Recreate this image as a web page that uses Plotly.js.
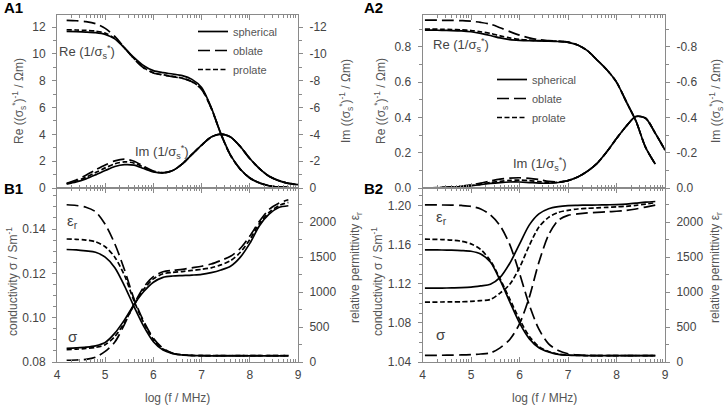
<!DOCTYPE html>
<html>
<head>
<meta charset="utf-8">
<script src="https://cdn.plot.ly/plotly-3.0.1.min.js"></script>
<style>html,body{margin:0;padding:0;background:#fff;}#chart{width:726px;height:406px;}</style>
</head>
<body>
<div id="chart"></div>
<script>
// ---------- DATA ----------
// x = log(f / MHz)
const xL  = [4.2,4.4,4.6,4.8,5.0,5.2,5.4,5.6,5.8,6.0,6.2,6.4,6.6,6.8,7.0,7.2,7.4,7.6,7.8,8.0,8.2,8.4,8.6,8.8];
const xL9 = [4.2,4.4,4.6,4.8,5.0,5.2,5.4,5.6,5.8,6.0,6.2,6.4,6.6,6.8,7.0,7.2,7.4,7.6,7.8,8.0,8.2,8.4,8.6,8.8,9.0];
const xR  = [4.05,4.2,4.4,4.6,4.8,5.0,5.2,5.4,5.6,5.8,6.0,6.2,6.4,6.6,6.8,7.0,7.2,7.4,7.6,7.8,8.0,8.2,8.4,8.6,8.8];
const xR9 = [4.05,4.2,4.4,4.6,4.8,5.0,5.2,5.4,5.6,5.8,6.0,6.2,6.4,6.6,6.8,7.0,7.2,7.4,7.6,7.8,8.0,8.2,8.4,8.6,8.8,9.0];

// A1: Re(1/sigma*) [Ohm m] (left axis), Im(1/sigma*) [Ohm m] (right axis, negative)
const a1ReSph = [11.68,11.66,11.63,11.58,11.45,11.12,10.45,9.72,9.12,8.75,8.6,8.5,8.38,8.1,7.5,6.0,4.05,2.45,1.42,0.75,0.38,0.17,0.08,0.04];
const a1ReObl = [12.5,12.47,12.4,12.25,11.9,11.3,10.45,9.62,8.95,8.58,8.42,8.3,8.17,7.92,7.35,5.95,4.02,2.43,1.41,0.75,0.38,0.17,0.08,0.04];
const a1RePro = [11.8,11.78,11.75,11.7,11.55,11.15,10.45,9.65,8.98,8.6,8.44,8.32,8.19,7.94,7.38,5.96,4.03,2.44,1.41,0.75,0.38,0.17,0.08,0.04];
const a1ImSph = [-0.3,-0.45,-0.68,-0.98,-1.3,-1.6,-1.74,-1.7,-1.45,-1.2,-1.12,-1.3,-1.8,-2.5,-3.2,-3.8,-4.02,-3.8,-3.1,-2.2,-1.45,-0.88,-0.55,-0.35,-0.25];
const a1ImObl = [-0.35,-0.6,-0.95,-1.35,-1.72,-2.02,-2.15,-2.0,-1.62,-1.27,-1.14,-1.3,-1.8,-2.5,-3.2,-3.8,-4.02,-3.8,-3.1,-2.2,-1.45,-0.88,-0.55,-0.35,-0.25];
const a1ImPro = [-0.32,-0.52,-0.8,-1.15,-1.5,-1.8,-1.95,-1.86,-1.55,-1.23,-1.13,-1.3,-1.8,-2.5,-3.2,-3.8,-4.02,-3.8,-3.1,-2.2,-1.45,-0.88,-0.55,-0.35,-0.25];

// B1: conductivity [S/m] (left), relative permittivity (right)
const b1SigSph = [0.0862,0.0864,0.0867,0.0873,0.0888,0.0930,0.0990,0.1060,0.1118,0.1160,0.1182,0.1188,0.1190,0.1192,0.1195,0.1203,0.1215,0.1232,0.1272,0.1335,0.1415,0.1467,0.1497,0.1505];
const b1SigObl = [0.0808,0.0809,0.0812,0.0822,0.0848,0.0890,0.0970,0.1062,0.1138,0.1185,0.1207,0.1214,0.1218,0.1225,0.1232,0.1242,0.1258,0.1277,0.1312,0.1368,0.1435,0.1488,0.1516,0.1532];
const b1SigPro = [0.0856,0.0858,0.0861,0.0866,0.0878,0.0915,0.0978,0.1058,0.1128,0.1175,0.1198,0.1204,0.1208,0.1213,0.1218,0.1225,0.1238,0.1257,0.1294,0.1352,0.1425,0.1475,0.1505,0.1520];
const b1EpsSph = [1610,1605,1590,1570,1500,1350,1090,790,510,290,170,120,100,92,90,88,88,88,88,88,88,88,88,88];
const b1EpsObl = [2250,2240,2215,2150,1970,1690,1320,900,580,340,195,125,102,94,91,90,90,90,90,90,90,90,90,90];
const b1EpsPro = [1760,1755,1745,1720,1650,1500,1240,870,560,320,185,125,102,94,91,90,90,90,90,90,90,90,90,90];

// A2
const a2ReSph = [0.894,0.894,0.893,0.892,0.89,0.885,0.876,0.864,0.85,0.84,0.836,0.834,0.833,0.832,0.83,0.825,0.81,0.778,0.725,0.67,0.6,0.49,0.38,0.23,0.135];
const a2ReObl = [0.951,0.951,0.95,0.95,0.948,0.945,0.938,0.928,0.908,0.886,0.866,0.85,0.84,0.835,0.831,0.826,0.81,0.778,0.725,0.67,0.6,0.49,0.38,0.23,0.135];
const a2RePro = [0.90,0.90,0.899,0.898,0.896,0.892,0.885,0.876,0.862,0.85,0.842,0.838,0.835,0.833,0.831,0.826,0.81,0.778,0.725,0.67,0.6,0.49,0.38,0.23,0.135];
const a2ImSph = [0,-0.001,-0.002,-0.004,-0.007,-0.012,-0.019,-0.026,-0.031,-0.034,-0.034,-0.031,-0.028,-0.027,-0.031,-0.042,-0.062,-0.095,-0.14,-0.205,-0.28,-0.35,-0.405,-0.395,-0.31,-0.215];
const a2ImObl = [0,-0.001,-0.003,-0.006,-0.01,-0.018,-0.028,-0.04,-0.05,-0.056,-0.058,-0.055,-0.048,-0.038,-0.034,-0.042,-0.062,-0.095,-0.14,-0.205,-0.28,-0.35,-0.405,-0.395,-0.31,-0.215];
const a2ImPro = [0,-0.001,-0.002,-0.005,-0.008,-0.014,-0.022,-0.031,-0.038,-0.043,-0.045,-0.042,-0.036,-0.031,-0.032,-0.042,-0.062,-0.095,-0.14,-0.205,-0.28,-0.35,-0.405,-0.395,-0.31,-0.215];

// B2
const b2SigSph = [1.1155,1.1155,1.1156,1.1158,1.1160,1.1165,1.1178,1.1195,1.1265,1.1410,1.1605,1.1800,1.1915,1.1968,1.1990,1.2000,1.2003,1.2005,1.2006,1.2008,1.2010,1.2015,1.2025,1.2035,1.2042];
const b2SigObl = [1.0468,1.0468,1.0469,1.0470,1.0472,1.0476,1.0482,1.0493,1.0545,1.0630,1.0790,1.1060,1.1420,1.1700,1.1850,1.1900,1.1915,1.1925,1.1930,1.1936,1.1942,1.1950,1.1965,1.1985,1.2005];
const b2SigPro = [1.1013,1.1013,1.1014,1.1015,1.1016,1.1020,1.1028,1.1040,1.1105,1.1195,1.1365,1.1590,1.1780,1.1880,1.1930,1.1952,1.1965,1.1972,1.1977,1.1982,1.1987,1.1993,1.2003,1.2015,1.2030];
const b2EpsSph = [1605,1605,1603,1600,1595,1585,1545,1430,1170,860,560,335,205,145,110,98,93,91,90,90,90,90,90,90,90];
const b2EpsObl = [2248,2248,2247,2245,2240,2228,2190,2105,1950,1680,1270,820,470,260,165,118,102,95,92,91,90,90,90,90,90];
const b2EpsPro = [1757,1756,1752,1745,1728,1690,1610,1450,1190,900,610,370,220,150,113,100,94,92,91,90,90,90,90,90,90];

// tick labels
const xTickVals = [4,5,6,7,8,9];
const xTickText = ["4","5","6","7","8","9"];
const a1RightVals = [0,-2,-4,-6,-8,-10,-12];
const a1RightText = ["0","-2","-4","-6","-8","-10","-12"];
const a2RightVals = [0,-0.2,-0.4,-0.6,-0.8];
const a2RightText = ["0.0","-0.2","-0.4","-0.6","-0.8"];
const shapeNames = ["spherical","oblate","prolate"];

// ---------- STYLE ----------
const FONT = "Liberation Sans, Arial, Helvetica, sans-serif";
const AX = "#8a8a8a", TXT = "#444";
const dashes = {sph:"solid", obl:"12px,5px", pro:"5px,2.5px"};
const LW = 1.7;
const logOff = [0.301,0.477,0.602,0.699,0.778,0.845,0.903,0.954];
const minorX = [];
[4,5,6,7,8].forEach(d => logOff.forEach(o => minorX.push(d + o)));

function tr(x, y, xa, ya, kind, legendName, legendId) {
  const t = {x:x, y:y, xaxis:xa, yaxis:ya, type:"scatter", mode:"lines",
    line:{color:"#000", width:LW, dash:dashes[kind], shape:"spline", smoothing:0.8},
    hoverinfo:"skip", showlegend:false};
  if (legendName) { t.name = legendName; t.showlegend = true; t.legend = legendId; }
  return t;
}

const data = [
  // A1
  tr(xL, a1ReSph, "x", "y", "sph", shapeNames[0], "legend"),
  tr(xL, a1ReObl, "x", "y", "obl", shapeNames[1], "legend"),
  tr(xL, a1RePro, "x", "y", "pro", shapeNames[2], "legend"),
  tr(xL9, a1ImSph, "x", "y2", "sph"),
  tr(xL9, a1ImObl, "x", "y2", "obl"),
  tr(xL9, a1ImPro, "x", "y2", "pro"),
  // B1
  tr(xL, b1SigSph, "x2", "y3", "sph"),
  tr(xL, b1SigObl, "x2", "y3", "obl"),
  tr(xL, b1SigPro, "x2", "y3", "pro"),
  tr(xL, b1EpsSph, "x2", "y4", "sph"),
  tr(xL, b1EpsObl, "x2", "y4", "obl"),
  tr(xL, b1EpsPro, "x2", "y4", "pro"),
  // A2
  tr(xR, a2ReSph, "x3", "y5", "sph", shapeNames[0], "legend2"),
  tr(xR, a2ReObl, "x3", "y5", "obl", shapeNames[1], "legend2"),
  tr(xR, a2RePro, "x3", "y5", "pro", shapeNames[2], "legend2"),
  tr(xR9, a2ImSph, "x3", "y6", "sph"),
  tr(xR9, a2ImObl, "x3", "y6", "obl"),
  tr(xR9, a2ImPro, "x3", "y6", "pro"),
  // B2
  tr(xR, b2SigSph, "x4", "y7", "sph"),
  tr(xR, b2SigObl, "x4", "y7", "obl"),
  tr(xR, b2SigPro, "x4", "y7", "pro"),
  tr(xR, b2EpsSph, "x4", "y8", "sph"),
  tr(xR, b2EpsObl, "x4", "y8", "obl"),
  tr(xR, b2EpsPro, "x4", "y8", "pro")
];

const W = 726, H = 406;
const xdL = [57/W, 298/W], xdR = [422.5/W, 665/W];
const ydA = [1-188/H, 1-15/H], ydB = [1-362/H, 1-188/H];
const tickfont = {family:FONT, size:12, color:TXT};

function xax(domain, anchor, labels) {
  return {domain:domain, anchor:anchor, range:[4,9], tickmode:"array", tickvals:xTickVals, ticktext:xTickText,
    showticklabels:labels, ticks:"inside", ticklen:5, tickcolor:AX, tickwidth:1,
    minor:{tickmode:"array", tickvals:minorX, ticks:"inside", ticklen:3, tickcolor:AX, tickwidth:1},
    showline:true, linecolor:AX, linewidth:1, mirror:"ticks", showgrid:false, zeroline:false,
    tickfont:tickfont, automargin:false, ticklabelstandoff:2};
}
function yleft(domain, anchor, range, dtick, minorD, fmt) {
  return {domain:domain, anchor:anchor, range:range, dtick:dtick, tick0:0, tickformat:fmt,
    ticks:"outside", ticklen:4, tickcolor:AX, tickwidth:1,
    minor:{dtick:minorD, ticks:"outside", ticklen:3, tickcolor:AX},
    showline:true, linecolor:AX, linewidth:1, showgrid:false, zeroline:false,
    tickfont:tickfont, automargin:false, ticklabelstandoff:4};
}
function yright(over, anchor, range, opts) {
  return Object.assign({overlaying:over, anchor:anchor, side:"right", range:range,
    ticks:"outside", ticklen:4, tickcolor:AX, tickwidth:1,
    showline:true, linecolor:AX, linewidth:1, showgrid:false, zeroline:false,
    tickfont:tickfont, automargin:false, ticklabelstandoff:4}, opts);
}

function pa(px, py, text, opts) {
  return Object.assign({xref:"paper", yref:"paper", x:px/W, y:1-py/H, text:text, showarrow:false,
    xanchor:"center", yanchor:"middle", font:{family:FONT, size:12, color:"#555"}}, opts||{});
}
function da(xr, yr, x, y, text) {
  return {xref:xr, yref:yr, x:x, y:y, text:text, showarrow:false, xanchor:"center", yanchor:"middle",
    font:{family:FONT, size:13, color:"#444"}};
}
const reTxt = "Re (1/σ<sub>s</sub><sup>*</sup>)";
const imTxt = "Im (1/σ<sub>s</sub><sup>*</sup>)";
const annotations = [
  pa(13, 8, "<b>A1</b>", {font:{family:FONT, size:15, color:"#000"}}),
  pa(13, 188, "<b>B1</b>", {font:{family:FONT, size:15, color:"#000"}}),
  pa(373, 8, "<b>A2</b>", {font:{family:FONT, size:15, color:"#000"}}),
  pa(373, 188, "<b>B2</b>", {font:{family:FONT, size:15, color:"#000"}}),
  pa(19, 101, "Re ((σ<sub>s</sub><sup>*</sup>)<sup>-1</sup> / Ωm)", {textangle:-90}),
  pa(346, 101, "Im ((σ<sub>s</sub><sup>*</sup>)<sup>-1</sup> / Ωm)", {textangle:-90}),
  pa(12, 282, "conductivity σ / Sm<sup>-1</sup>", {textangle:-90}),
  pa(356, 268, "relative permittivity ε<sub>r</sub>", {textangle:-90}),
  pa(381, 101, "Re ((σ<sub>s</sub><sup>*</sup>)<sup>-1</sup> / Ωm)", {textangle:-90}),
  pa(716, 101, "Im ((σ<sub>s</sub><sup>*</sup>)<sup>-1</sup> / Ωm)", {textangle:-90}),
  pa(377, 282, "conductivity σ / Sm<sup>-1</sup>", {textangle:-90}),
  pa(716, 268, "relative permittivity ε<sub>r</sub>", {textangle:-90}),
  pa(177, 398, "log (f / MHz)"),
  pa(544, 398, "log (f / MHz)"),
  da("x", "y", 4.63, 10.13, reTxt),
  da("x", "y", 6.18, 2.68, imTxt),
  da("x3", "y5", 4.80, 0.81, reTxt),
  da("x3", "y5", 6.43, 0.136, imTxt),
  Object.assign(da("x2", "y3", 4.33, 0.1436, "ε<sub>r</sub>"), {font:{family:FONT, size:15, color:"#444"}}),
  Object.assign(da("x2", "y3", 4.33, 0.0913, "σ"), {font:{family:FONT, size:15, color:"#444"}}),
  Object.assign(da("x4", "y7", 4.39, 1.1875, "ε<sub>r</sub>"), {font:{family:FONT, size:15, color:"#444"}}),
  Object.assign(da("x4", "y7", 4.39, 1.0677, "σ"), {font:{family:FONT, size:15, color:"#444"}})
];

const legendBase = {bgcolor:"rgba(0,0,0,0)", borderwidth:0, font:{family:FONT, size:11, color:"#555"},
  xanchor:"left", yanchor:"top", tracegroupgap:0, itemclick:false, itemdoubleclick:false};

const layout = {
  width:W, height:H, margin:{l:0, r:0, t:0, b:0}, paper_bgcolor:"#fff", plot_bgcolor:"rgba(0,0,0,0)",
  font:{family:FONT, color:TXT},
  xaxis: xax(xdL, "y", false),
  xaxis2: xax(xdL, "y3", true),
  xaxis3: xax(xdR, "y5", false),
  xaxis4: xax(xdR, "y7", true),
  yaxis: yleft(ydA, "x", [0, 12.9], 2, 1, "d"),
  yaxis2: yright("y", "x", [0, -12.9], {tickmode:"array", tickvals:a1RightVals, ticktext:a1RightText,
           minor:{dtick:1, tick0:0, ticks:"outside", ticklen:3, tickcolor:AX}}),
  yaxis3: yleft(ydB, "x2", [0.08, 0.1585], 0.02, 0.005, ".2f"),
  yaxis4: yright("y3", "x2", [0, 2490], {dtick:500, tick0:0, tickformat:"d",
           minor:{dtick:250, tick0:0, ticks:"outside", ticklen:3, tickcolor:AX}}),
  yaxis5: yleft(ydA, "x3", [0, 0.98], 0.2, 0.1, ".1f"),
  yaxis6: yright("y5", "x3", [0, -0.98], {tickmode:"array", tickvals:a2RightVals, ticktext:a2RightText,
           minor:{dtick:0.1, tick0:0, ticks:"outside", ticklen:3, tickcolor:AX}}),
  yaxis7: Object.assign(yleft(ydB, "x4", [1.04, 1.218], 0.04, 0.01, ".2f"), {tick0:1.04}),
  yaxis8: yright("y7", "x4", [0, 2490], {dtick:500, tick0:0, tickformat:"d",
           minor:{dtick:250, tick0:0, ticks:"outside", ticklen:3, tickcolor:AX}}),
  legend: Object.assign({}, legendBase, {x:193/W, y:1-17/H}),
  legend2: Object.assign({}, legendBase, {x:492/W, y:1-65/H}),
  annotations: annotations,
  showlegend:true
};

Plotly.newPlot("chart", data, layout, {staticPlot:true, displayModeBar:false});
</script>
</body>
</html>
